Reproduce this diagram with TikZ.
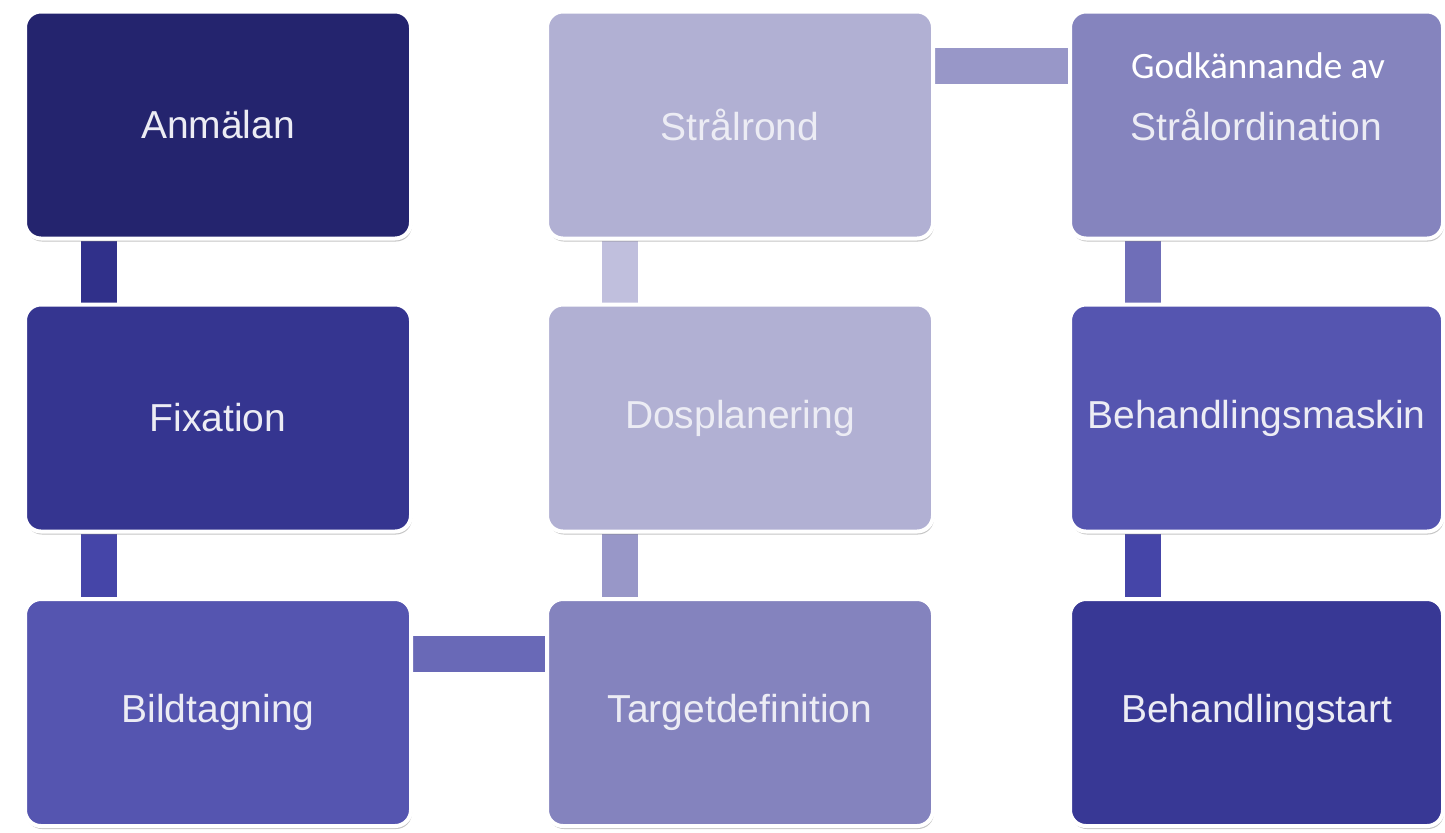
\documentclass[tikz,border=0pt]{standalone}
\usepackage{fontspec}
\setmainfont{Liberation Sans}
\newfontfamily\calib{Carlito}
\usetikzlibrary{shadows,backgrounds}
\definecolor{cAnm}{HTML}{24246E}
\definecolor{cFix}{HTML}{353590}
\definecolor{cBild}{HTML}{5555B0}
\definecolor{cTarg}{HTML}{8483BE}
\definecolor{cDos}{HTML}{B1B0D3}
\definecolor{cStral}{HTML}{B1B0D3}
\definecolor{cGod}{HTML}{8584BE}
\definecolor{cMask}{HTML}{5555B0}
\definecolor{cStart}{HTML}{383895}
\definecolor{kA}{HTML}{30308A}
\definecolor{kB}{HTML}{4545A8}
\definecolor{kC}{HTML}{6969B7}
\definecolor{kD}{HTML}{9897C8}
\definecolor{kE}{HTML}{C0BFDD}
\definecolor{kF}{HTML}{9897C8}
\definecolor{kG}{HTML}{6F6EB8}
\definecolor{kH}{HTML}{4545A8}
\definecolor{txt}{HTML}{ECECF4}
\tikzset{
  stepbox/.style={rectangle, rounded corners=8pt, draw=white, line width=2pt,
    minimum width=193pt, minimum height=113.5pt, inner sep=0pt,
    text=txt, font=\fontsize{19.5}{23}\selectfont,
    drop shadow={shadow xshift=0.5pt, shadow yshift=-1.5pt, opacity=0.45}},
  conn/.style={line width=18pt},
}
\begin{document}
\begin{tikzpicture}[x=0.5pt,y=-0.5pt]
\useasboundingbox (0,0) rectangle (1445,832);
% boxes
\node[stepbox, fill=cAnm]   (anm)   at (218,125)  {Anmälan};
\node[stepbox, fill=cFix]   (fix)   at (218,418)  {Fixation};
\node[stepbox, fill=cBild]  (bild)  at (218,712.5) {Bildtagning};
\node[stepbox, fill=cTarg]  (targ)  at (740,712.5) {Targetdefinition};
\node[stepbox, fill=cDos]   (dos)   at (740,418)  {Dosplanering};
\node[stepbox, fill=cStral] (stral) at (740,125)  {Strålrond};
\node[stepbox, fill=cGod, minimum width=186.5pt] (god) at (1256.5,125) {Strålordination};
\node[text=white, font=\calib\fontsize{18.6}{22}\selectfont, inner sep=0pt] (godlab) at (1258,66) {Godkännande av};
\node[stepbox, fill=cMask, minimum width=186.5pt] (mask)  at (1256.5,418) {Behandlingsmaskin};
\node[stepbox, fill=cStart, minimum width=186.5pt] (start) at (1256.5,712.5) {Behandlingstart};
% connectors
\begin{pgfonlayer}{background}
\fill[white] (0,0) rectangle (1445,832);
\draw[conn, kA] ([xshift=38pt]anm.south west) -- ([xshift=38pt]fix.north west);
\draw[conn, kB] ([xshift=38pt]fix.south west) -- ([xshift=38pt]bild.north west);
\draw[conn, kC] ([yshift=-28.5pt]bild.north east) -- ([yshift=-28.5pt]targ.north west);
\draw[conn, kD] ([xshift=37.5pt]targ.north west) -- ([xshift=37.5pt]dos.south west);
\draw[conn, kE] ([xshift=37.5pt]dos.north west) -- ([xshift=37.5pt]stral.south west);
\draw[conn, kF] ([yshift=-28pt]stral.north east) -- ([yshift=-28pt]god.north west);
\draw[conn, kG] ([xshift=37.5pt]god.south west) -- ([xshift=37.5pt]mask.north west);
\draw[conn, kH] ([xshift=37.5pt]mask.south west) -- ([xshift=37.5pt]start.north west);
\end{pgfonlayer}
\end{tikzpicture}
\end{document}
